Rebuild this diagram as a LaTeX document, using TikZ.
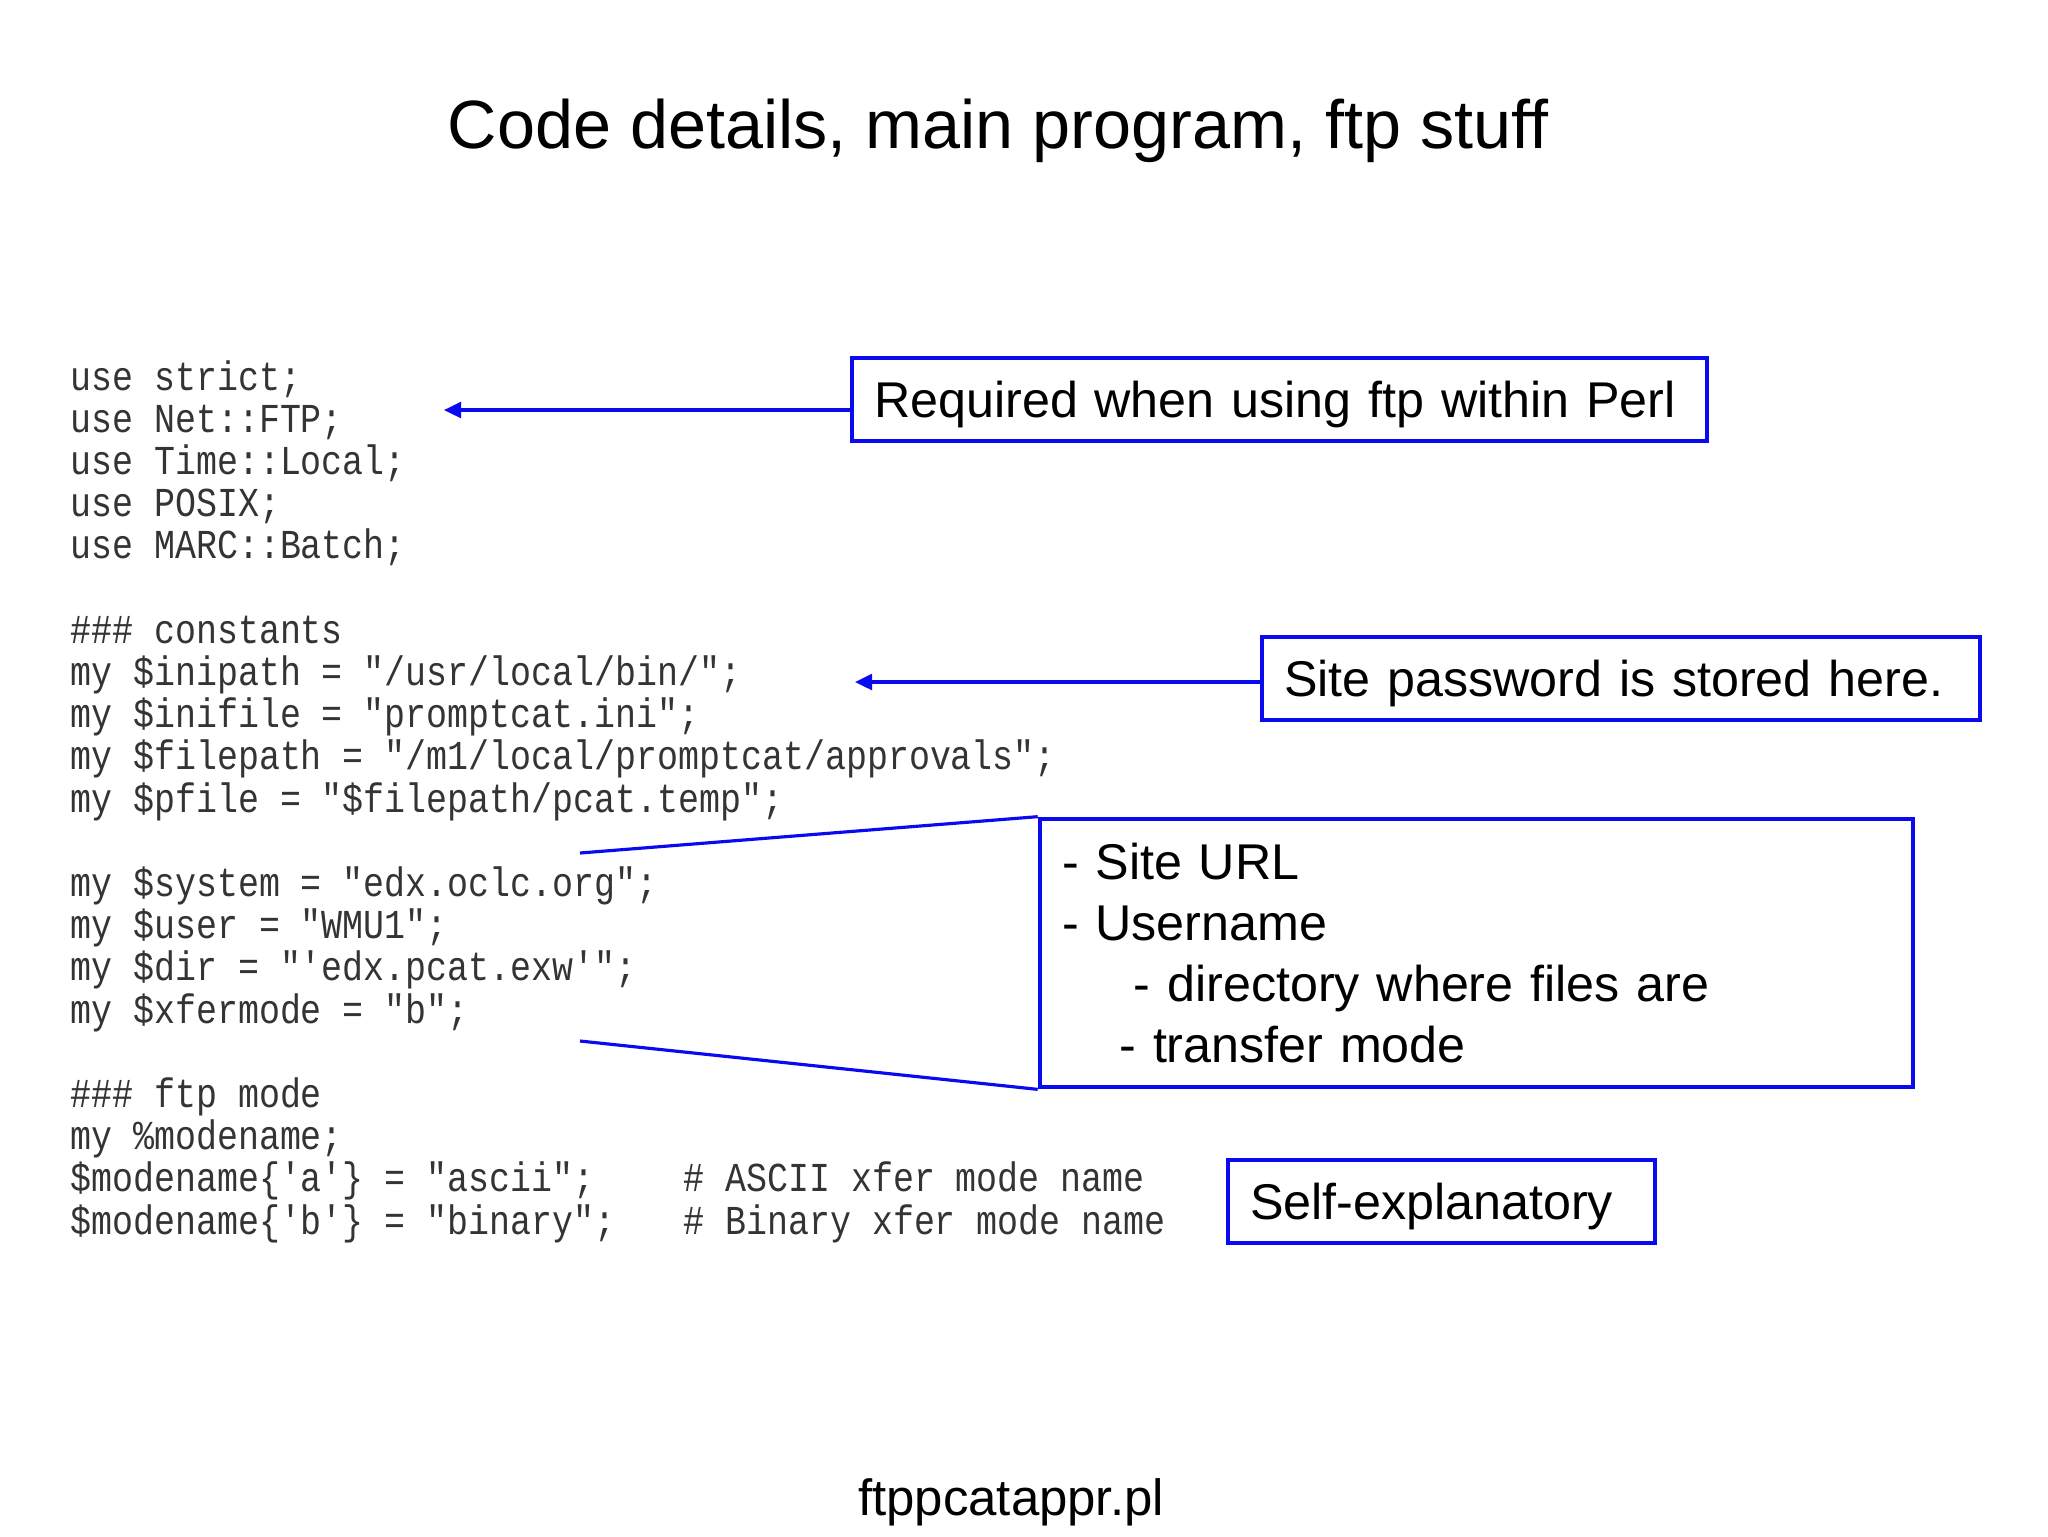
\documentclass[tikz,border=0pt]{standalone}
\usepackage{fontspec}
\setmainfont{Liberation Sans}
\newfontfamily\codefont[FakeStretch=0.85]{Liberation Mono}
\usetikzlibrary{arrows.meta}
\definecolor{lineblue}{RGB}{10,10,240}
\definecolor{codegray}{RGB}{52,52,52}
\tikzset{
  code/.style={anchor=base west, inner sep=0pt, text=codegray, font=\codefont\fontsize{23.4}{28}\selectfont},
  notebox/.style={draw=lineblue, line width=2.7pt, fill=white, inner xsep=0.44cm, inner ysep=0pt,
    align=left, font=\fontsize{28.6}{34.9}\selectfont},
  onebox/.style={notebox, text depth=0pt},
  conn/.style={draw=lineblue, line width=1.8pt},
  arr/.style={conn, -{Triangle[length=9.7pt,width=9pt]}},
}
\begin{document}
\begin{tikzpicture}[x=0.02cm, y=-0.02cm]
\useasboundingbox[fill=white] (0,0) rectangle (2048,1536);
% title
\node[anchor=base, inner sep=0pt, font=\fontsize{38.9}{44}\selectfont] (title) at (998,148) {Code details, main program, ftp stuff};
% code
\node[code] (c0)  at (70,390)    {use strict;};
\node[code] (c1)  at (70,432.2)  {use Net::FTP;};
\node[code] (c2)  at (70,474.4)  {use Time::Local;};
\node[code] (c3)  at (70,516.6)  {use POSIX;};
\node[code] (c4)  at (70,558.8)  {use MARC::Batch;};
\node[code] (c6)  at (70,643.2)  {\#\#\# constants};
\node[code] (c7)  at (70,685.4)  {my \$inipath = "/usr/local/bin/";};
\node[code] (c8)  at (70,727.6)  {my \$inifile = "promptcat.ini";};
\node[code] (c9)  at (70,769.8)  {my \$filepath = "/m1/local/promptcat/approvals";};
\node[code] (c10) at (70,812)    {my \$pfile = "\$filepath/pcat.temp";};
\node[code] (c12) at (70,896.4)  {my \$system = "edx.oclc.org";};
\node[code] (c13) at (70,938.6)  {my \$user = "WMU1";};
\node[code] (c14) at (70,980.8)  {my \$dir = "'edx.pcat.exw'";};
\node[code] (c15) at (70,1023)   {my \$xfermode = "b";};
\node[code] (c17) at (70,1107.4) {\#\#\# ftp mode};
\node[code] (c18) at (70,1149.6) {my \%modename;};
\node[code] (c19) at (70,1191.8) {\$modename\{'a'\} = "ascii";};
\node[code] (c20) at (70,1234)   {\$modename\{'b'\} = "binary";};
\node[code] (k19) at (683,1191.8) {\# ASCII xfer mode name};
\node[code] (k20) at (683,1234)   {\# Binary xfer mode name};
% boxes
\node[onebox, minimum width=17.1cm, minimum height=1.66cm, text width=16.22cm] (b1) at (1279.5,399.5) {Required when using ftp within Perl};
\node[onebox, minimum width=14.36cm, minimum height=1.66cm, text width=13.48cm] (b2) at (1621,678.5) {Site password is stored here.};
\node[notebox, minimum width=17.42cm, minimum height=5.36cm, text width=16.58cm] (b3) at (1476.5,953) {- Site URL\\- Username\\\hspace*{40.9pt}- directory where files are\\\hspace*{32.7pt}- transfer mode};
\node[onebox, minimum width=8.54cm, minimum height=1.66cm, text width=7.66cm] (b4) at (1441.5,1201.5) {Self-explanatory};
% connectors
\coordinate (t1) at (444,410);
\coordinate (t2) at (855,682);
\coordinate (p3a) at (580,853);
\coordinate (p3b) at (580,1041);
\draw[arr] (b1.west |- t1) -- (t1);
\draw[arr] (b2.west |- t2) -- (t2);
\draw[conn] (b3.north west) -- (p3a);
\draw[conn] (b3.south west) -- (p3b);
% footer
\node[anchor=base, inner sep=0pt, font=\fontsize{29}{34}\selectfont] (foot) at (1011,1515) {ftppcatappr.pl};
\end{tikzpicture}
\end{document}
